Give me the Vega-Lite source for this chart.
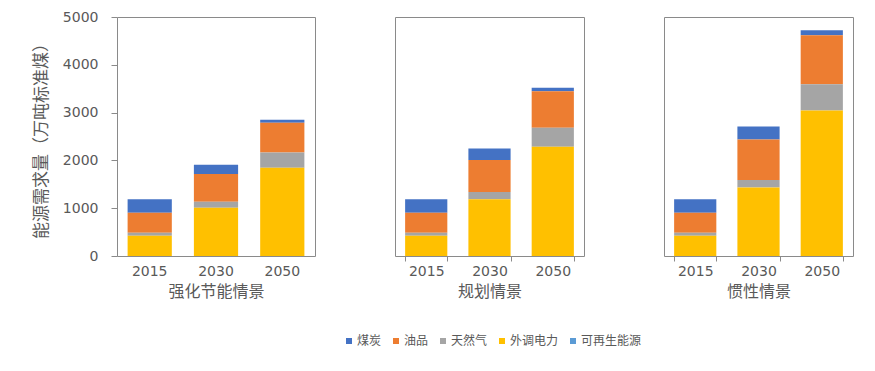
{
  "$schema": "https://vega.github.io/schema/vega-lite/v6.json",
  "padding": {"left": 31, "top": 9, "right": 5, "bottom": 5},
  "background": "white",
  "config": {
    "font": "Noto Sans CJK SC",
    "view": {"stroke": "#8a8a8a", "strokeWidth": 1},
    "axis": {"labelColor": "#595959", "titleColor": "#595959", "domainColor": "#8a8a8a", "tickColor": "#8a8a8a", "grid": false, "titleFontWeight": "normal", "labelFont": "DejaVu Sans"}
  },
  "data": {"values": [
    {"scenario": "强化节能情景", "year": "2015", "type": "煤炭", "value": 280},
    {"scenario": "强化节能情景", "year": "2015", "type": "油品", "value": 418},
    {"scenario": "强化节能情景", "year": "2015", "type": "天然气", "value": 63},
    {"scenario": "强化节能情景", "year": "2015", "type": "外调电力", "value": 424},
    {"scenario": "强化节能情景", "year": "2015", "type": "可再生能源", "value": 0},
    {"scenario": "强化节能情景", "year": "2030", "type": "煤炭", "value": 195},
    {"scenario": "强化节能情景", "year": "2030", "type": "油品", "value": 580},
    {"scenario": "强化节能情景", "year": "2030", "type": "天然气", "value": 125},
    {"scenario": "强化节能情景", "year": "2030", "type": "外调电力", "value": 1010},
    {"scenario": "强化节能情景", "year": "2030", "type": "可再生能源", "value": 0},
    {"scenario": "强化节能情景", "year": "2050", "type": "煤炭", "value": 63},
    {"scenario": "强化节能情景", "year": "2050", "type": "油品", "value": 620},
    {"scenario": "强化节能情景", "year": "2050", "type": "天然气", "value": 320},
    {"scenario": "强化节能情景", "year": "2050", "type": "外调电力", "value": 1846},
    {"scenario": "强化节能情景", "year": "2050", "type": "可再生能源", "value": 0},
    {"scenario": "规划情景", "year": "2015", "type": "煤炭", "value": 280},
    {"scenario": "规划情景", "year": "2015", "type": "油品", "value": 418},
    {"scenario": "规划情景", "year": "2015", "type": "天然气", "value": 63},
    {"scenario": "规划情景", "year": "2015", "type": "外调电力", "value": 424},
    {"scenario": "规划情景", "year": "2015", "type": "可再生能源", "value": 0},
    {"scenario": "规划情景", "year": "2030", "type": "煤炭", "value": 244},
    {"scenario": "规划情景", "year": "2030", "type": "油品", "value": 668},
    {"scenario": "规划情景", "year": "2030", "type": "天然气", "value": 153},
    {"scenario": "规划情景", "year": "2030", "type": "外调电力", "value": 1185},
    {"scenario": "规划情景", "year": "2030", "type": "可再生能源", "value": 0},
    {"scenario": "规划情景", "year": "2050", "type": "煤炭", "value": 70},
    {"scenario": "规划情景", "year": "2050", "type": "油品", "value": 766},
    {"scenario": "规划情景", "year": "2050", "type": "天然气", "value": 397},
    {"scenario": "规划情景", "year": "2050", "type": "外调电力", "value": 2285},
    {"scenario": "规划情景", "year": "2050", "type": "可再生能源", "value": 0},
    {"scenario": "惯性情景", "year": "2015", "type": "煤炭", "value": 280},
    {"scenario": "惯性情景", "year": "2015", "type": "油品", "value": 418},
    {"scenario": "惯性情景", "year": "2015", "type": "天然气", "value": 63},
    {"scenario": "惯性情景", "year": "2015", "type": "外调电力", "value": 424},
    {"scenario": "惯性情景", "year": "2015", "type": "可再生能源", "value": 0},
    {"scenario": "惯性情景", "year": "2030", "type": "煤炭", "value": 273},
    {"scenario": "惯性情景", "year": "2030", "type": "油品", "value": 849},
    {"scenario": "惯性情景", "year": "2030", "type": "天然气", "value": 154},
    {"scenario": "惯性情景", "year": "2030", "type": "外调电力", "value": 1434},
    {"scenario": "惯性情景", "year": "2030", "type": "可再生能源", "value": 0},
    {"scenario": "惯性情景", "year": "2050", "type": "煤炭", "value": 104},
    {"scenario": "惯性情景", "year": "2050", "type": "油品", "value": 1024},
    {"scenario": "惯性情景", "year": "2050", "type": "天然气", "value": 550},
    {"scenario": "惯性情景", "year": "2050", "type": "外调电力", "value": 3045},
    {"scenario": "惯性情景", "year": "2050", "type": "可再生能源", "value": 0}
  ]},
  "spacing": 78,
  "resolve": {"scale": {"color": "shared"}},
  "hconcat": [
    {
      "width": 198, "height": 239,
      "transform": [{"filter": "datum.scenario === '强化节能情景'"}],
      "mark": {"type": "bar"},
      "encoding": {
        "x": {"field": "year", "type": "nominal", "scale": {"paddingInner": 0.333, "paddingOuter": 0.16},
          "axis": {"title": "强化节能情景", "labelAngle": 0, "ticks": false, "domain": false, "labelFontSize": 14, "labelPadding": 8, "titleFontSize": 16, "titlePadding": 5}},
        "y": {"field": "value", "type": "quantitative", "aggregate": "sum", "stack": "zero", "scale": {"domain": [0, 5000]},
          "axis": {"title": "能源需求量（万吨标准煤）", "values": [0, 1000, 2000, 3000, 4000, 5000], "format": "d", "tickSize": 6, "labelFontSize": 14, "labelPadding": 13, "titleFontSize": 17, "titlePadding": 12, "domain": false}},
        "color": {"field": "type", "type": "nominal",
          "scale": {"domain": ["煤炭", "油品", "天然气", "外调电力", "可再生能源"], "range": ["#4472C4", "#ED7D31", "#A5A5A5", "#FFC000", "#5B9BD5"]},
          "legend": {"title": null, "orient": "none", "direction": "horizontal", "legendX": 226, "legendY": 318, "symbolType": "square", "symbolSize": 36, "labelFontSize": 12, "labelColor": "#595959", "labelOffset": 2, "columnPadding": 8, "symbolStrokeWidth": 0}},
        "order": {"field": "type", "sort": "ascending"}
      }
    },
    {
      "width": 189, "height": 239,
      "transform": [{"filter": "datum.scenario === '规划情景'"}],
      "mark": {"type": "bar"},
      "encoding": {
        "x": {"field": "year", "type": "nominal", "scale": {"paddingInner": 0.333, "paddingOuter": 0.16},
          "axis": {"title": "规划情景", "labelAngle": 0, "tickBand": "extent", "tickSize": 5, "domain": false, "labelFontSize": 14, "labelPadding": 3, "titleFontSize": 16, "titlePadding": 5}},
        "y": {"field": "value", "type": "quantitative", "aggregate": "sum", "stack": "zero", "scale": {"domain": [0, 5000]}, "axis": null},
        "color": {"field": "type", "type": "nominal"},
        "order": {"field": "type", "sort": "ascending"}
      }
    },
    {
      "width": 189, "height": 239,
      "transform": [{"filter": "datum.scenario === '惯性情景'"}],
      "mark": {"type": "bar"},
      "encoding": {
        "x": {"field": "year", "type": "nominal", "scale": {"paddingInner": 0.333, "paddingOuter": 0.16},
          "axis": {"title": "惯性情景", "labelAngle": 0, "tickBand": "extent", "tickSize": 5, "domain": false, "labelFontSize": 14, "labelPadding": 3, "titleFontSize": 16, "titlePadding": 5}},
        "y": {"field": "value", "type": "quantitative", "aggregate": "sum", "stack": "zero", "scale": {"domain": [0, 5000]}, "axis": null},
        "color": {"field": "type", "type": "nominal"},
        "order": {"field": "type", "sort": "ascending"}
      }
    }
  ]
}
